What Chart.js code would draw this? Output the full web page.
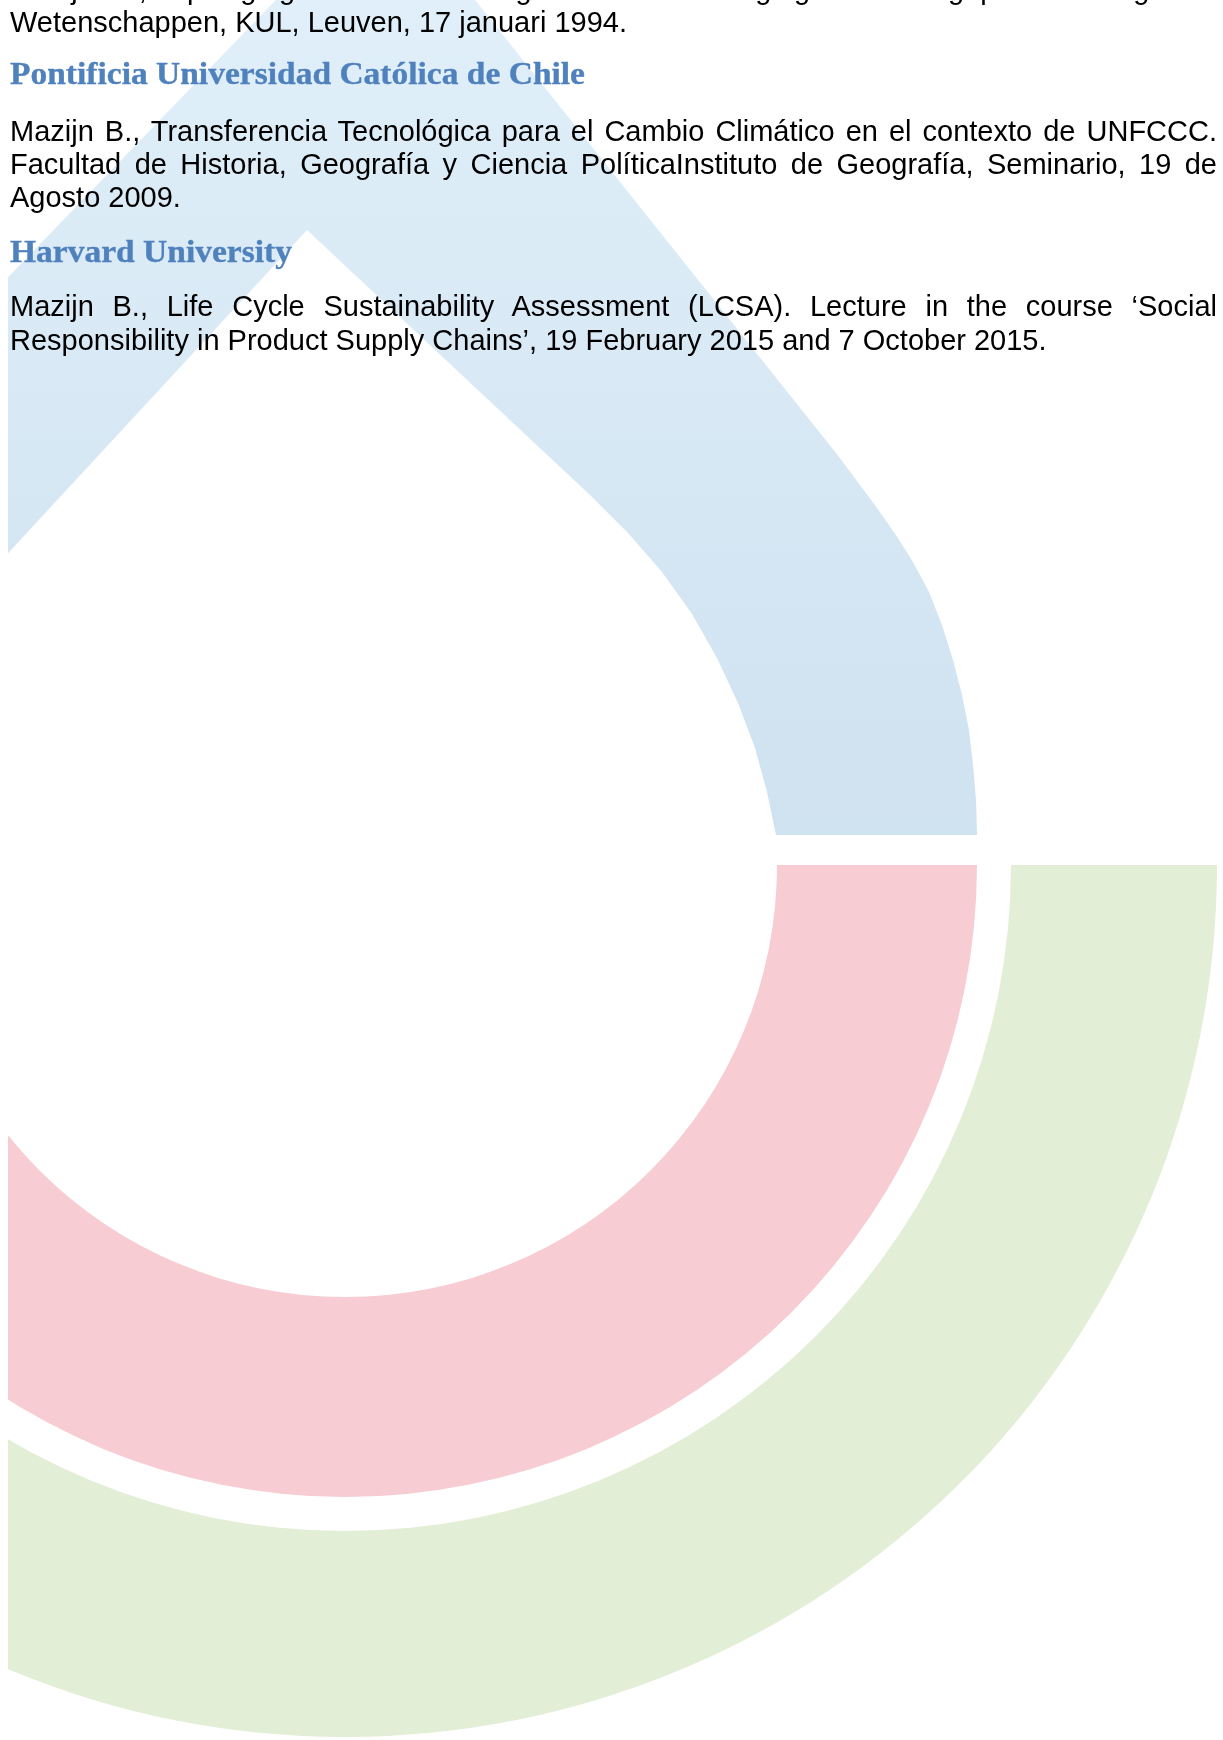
<!DOCTYPE html>
<html>
<head>
<meta charset="utf-8">
<script src="https://cdn.jsdelivr.net/npm/chart.js@4.4.0/dist/chart.umd.min.js"></script>
<style>
html,body{margin:0;padding:0;background:#ffffff;}
body{width:1223px;height:1740px;position:relative;overflow:hidden;}
#bg{position:absolute;left:8px;top:0;width:1215px;height:1740px;overflow:hidden;}
#drop{position:absolute;left:0;top:0;}
#rings{position:absolute;left:-535px;top:-7px;}
.t{position:absolute;left:10px;width:1207px;white-space:nowrap;font-family:"Liberation Sans",Arial,sans-serif;font-size:29px;line-height:29px;color:#000;}
.j{text-align:justify;text-align-last:justify;}
.h{position:absolute;left:10px;white-space:nowrap;font-family:"Liberation Serif","Times New Roman",serif;font-weight:bold;font-size:31px;line-height:31px;color:#4f81bd;transform-origin:0 0;-webkit-text-stroke:0.35px #4f81bd;}
</style>
</head>
<body>
<div id="bg">
  <canvas id="drop" width="1215" height="900" style="width:1215px;height:900px"></canvas>
  <canvas id="rings" width="1744" height="1744" style="width:1744px;height:1744px"></canvas>
</div>
<div id="txt"></div>
<script>
// ---- text content (page coordinates: baseline y in px) ----
const bodyLines = [
  "Mazijn B., Opvolging van Rio. Lezing voor de Vereniging voor Toegepaste Biologische",
  "Wetenschappen, KUL, Leuven, 17 januari 1994.",
  "Mazijn B., Transferencia Tecnológica para el Cambio Climático en el contexto de UNFCCC.",
  "Facultad de Historia, Geografía y Ciencia PolíticaInstituto de Geografía, Seminario, 19 de",
  "Agosto 2009.",
  "Mazijn B., Life Cycle Sustainability Assessment (LCSA). Lecture in the course ‘Social",
  "Responsibility in Product Supply Chains’, 19 February 2015 and 7 October 2015."
];
const bodyBaselines = [0, 33, 142, 175, 208, 317, 351];
const bodyJustified = [true, false, true, true, false, true, false];
const headings = ["Pontificia Universidad Católica de Chile", "Harvard University"];
const headingBaselines = [84, 262];
const headingWidths = [575, 282];

// ---- blue drop outline (page px) ----
const dropX = [977, 976, 973, 969, 962, 953, 942, 929, 913, 896, 877, 857, 836, 385, -100, -100, 307, 590, 628, 662, 692, 717, 738, 755, 767, 776];
const dropY = [835, 800, 765, 730, 695, 660, 625, 592, 562, 535, 508, 481, 453, -113, 389, 670, 230, 495, 533, 572, 614, 658, 703, 748, 792, 835];

// ---- rings around common centre (345,865) ----
const ringNames = ["green", "gap", "red"];
const ringOuter = [872, 666, 632];
const ringInner = [666, 632, 432];
const ringSweep = [180, 0, 180];
const ringColors = ["#e2eed5", "rgba(0,0,0,0)", "#f7cdd3"];

// ---- text ----
const txt = document.getElementById('txt');
bodyLines.forEach((s, i) => {
  const d = document.createElement('div');
  d.className = 't' + (bodyJustified[i] ? ' j' : '');
  d.textContent = s;
  d.style.top = (bodyBaselines[i] - 0.8465 * 29) + 'px';
  txt.appendChild(d);
});
headings.forEach((s, i) => {
  const d = document.createElement('div');
  d.className = 'h';
  d.textContent = s;
  d.style.top = (headingBaselines[i] - 0.8375 * 31) + 'px';
  txt.appendChild(d);
  const w = d.getBoundingClientRect().width;
  d.style.transform = 'scaleX(' + (headingWidths[i] / w) + ')';
});

// ---- blue drop (scatter with shape fill) ----
const dropPts = dropX.map((x, i) => ({x: x, y: dropY[i]}));
new Chart(document.getElementById('drop'), {
  type: 'scatter',
  data: {datasets: [{
    data: dropPts,
    showLine: true,
    fill: 'shape',
    tension: 0,
    borderWidth: 0,
    pointRadius: 0,
    backgroundColor: (c) => {
      const ch = c.chart, area = ch.chartArea;
      if (!area) return '#d4e7f3';
      const g = ch.ctx.createLinearGradient(0, area.top, 0, area.top + 835);
      g.addColorStop(0, '#e0eff9');
      g.addColorStop(1, '#cfe2f0');
      return g;
    }
  }]},
  options: {
    responsive: false, animation: false, events: [],
    layout: {padding: 0},
    plugins: {legend: {display: false}, tooltip: {enabled: false}},
    scales: {
      x: {type: 'linear', min: 8, max: 1223, display: false},
      y: {type: 'linear', min: 0, max: 900, reverse: true, display: false}
    }
  }
});

// ---- rings (doughnut) ----
new Chart(document.getElementById('rings'), {
  type: 'doughnut',
  data: {
    labels: ['arc', 'rest'],
    datasets: ringNames.map((n, i) => ({
      label: n,
      data: [ringSweep[i], 360 - ringSweep[i]],
      backgroundColor: [ringColors[i], 'rgba(0,0,0,0)'],
      weight: ringOuter[i] - ringInner[i],
      borderWidth: 0, hoverOffset: 0, offset: 0
    }))
  },
  options: {
    responsive: false, animation: false, events: [],
    rotation: 90, circumference: 360,
    radius: ringOuter[0], cutout: ringInner[ringInner.length - 1],
    layout: {padding: 0},
    plugins: {legend: {display: false}, tooltip: {enabled: false}}
  }
});
</script>
</body>
</html>
